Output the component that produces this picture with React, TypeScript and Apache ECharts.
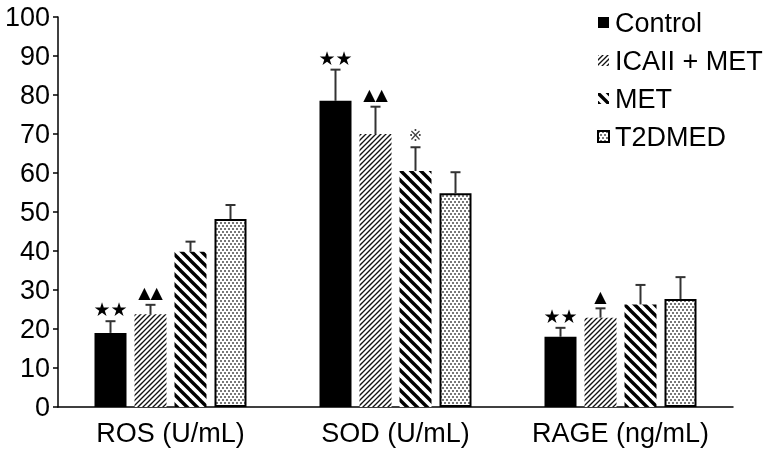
import React, { useEffect, useRef } from 'react';
import * as echarts from 'echarts';

const categories = ['ROS (U/mL)', 'SOD (U/mL)', 'RAGE (ng/mL)'];
const seriesNames = ['Control', 'ICAII + MET', 'MET', 'T2DMED'];
const controlValues = [19, 78.5, 18];
const controlErrors = [3, 8, 2.3];
const icaiiValues = [23.8, 70, 22.9];
const icaiiErrors = [2.4, 7, 2.4];
const metValues = [39.8, 60.5, 26.3];
const metErrors = [2.6, 6.1, 5];
const t2dValues = [48.2, 54.8, 27.7];
const t2dErrors = [3.6, 5.4, 5.6];
const controlMarks = ['★★', '★★', '★★'];
const icaiiMarks = ['▲▲', '▲▲', '▲'];
const metMarks = ['', '※', ''];
const t2dMarks = ['', '', ''];
const yMin = 0;
const yMax = 100;
const yInterval = 10;

const BAR_W = 32;
const BAR_GAP = 8;
const FONT = 'Liberation Sans, Arial, Helvetica, sans-serif';
const SYM_FONT = 'DejaVu Sans, sans-serif';

function makeTile(w: number, h: number, draw: (ctx: CanvasRenderingContext2D) => void) {
  const c = document.createElement('canvas');
  c.width = w;
  c.height = h;
  const ctx = c.getContext('2d')!;
  ctx.fillStyle = '#fff';
  ctx.fillRect(0, 0, w, h);
  draw(ctx);
  return { image: c, repeat: 'repeat', imageWidth: w, imageHeight: h } as any;
}

export default function App() {
  const ref = useRef<HTMLDivElement>(null);
  useEffect(() => {
    if (!ref.current) return;
    const chart = echarts.init(ref.current, null, { renderer: 'svg' });

    const icaiiPattern = makeTile(10, 10, (ctx) => {
      ctx.strokeStyle = '#111';
      ctx.lineWidth = 1.3;
      for (let c = -10; c <= 30; c += 5) {
        ctx.beginPath();
        ctx.moveTo(c + 2, -2);
        ctx.lineTo(c - 12, 12);
        ctx.stroke();
      }
    });
    const metPattern = makeTile(10, 10, (ctx) => {
      ctx.strokeStyle = '#000';
      ctx.lineWidth = 3.4;
      for (let c = -10; c <= 10; c += 10) {
        ctx.beginPath();
        ctx.moveTo(c - 2, -2);
        ctx.lineTo(c + 12, 12);
        ctx.stroke();
      }
    });
    const t2dPattern = makeTile(8, 6, (ctx) => {
      ctx.fillStyle = '#111';
      const pts = [[1, 1], [5, 1], [3, 4], [7, 4]];
      pts.forEach(([x, y]) => ctx.fillRect(x - 0.75, y - 0.75, 1.5, 1.5));
    });

    const values = [controlValues, icaiiValues, metValues, t2dValues];
    const errors = [controlErrors, icaiiErrors, metErrors, t2dErrors];
    const marks = [controlMarks, icaiiMarks, metMarks, t2dMarks];
    const styles: any[] = [
      { color: '#000' },
      { color: icaiiPattern },
      { color: metPattern },
      { color: t2dPattern, borderColor: '#000', borderWidth: 2 },
    ];

    const errData: any[] = [];
    for (let s = 0; s < 4; s++) {
      for (let c = 0; c < categories.length; c++) {
        errData.push([c, values[s][c], errors[s][c], s]);
      }
    }

    const barSeries = seriesNames.map((name, s) => ({
      name,
      type: 'bar',
      data: values[s],
      barWidth: BAR_W,
      barGap: (BAR_GAP / BAR_W) * 100 + '%',
      itemStyle: styles[s],
      z: 2,
    }));

    chart.setOption({
      animation: false,
      grid: { left: 58, right: 42, top: 17, bottom: 48, containLabel: false },
      legend: {
        data: seriesNames,
        orient: 'vertical',
        left: 597,
        top: 9,
        padding: 0,
        itemWidth: 11,
        itemHeight: 11,
        itemGap: 11,
        icon: 'rect',
        textStyle: { fontSize: 27, fontFamily: FONT, color: '#000', padding: [0, 0, 0, 1] },
      },
      xAxis: {
        type: 'category',
        data: categories,
        axisLine: { lineStyle: { color: '#000', width: 1.5 } },
        axisTick: { inside: true, length: 5, lineStyle: { color: '#000', width: 1.5 } },
        axisLabel: { fontSize: 27, fontFamily: FONT, color: '#000', margin: 12, interval: 0, hideOverlap: false },
      },
      yAxis: {
        type: 'value',
        min: yMin,
        max: yMax,
        interval: yInterval,
        splitLine: { show: false },
        axisLine: { show: true, lineStyle: { color: '#000', width: 1.5 } },
        axisTick: { show: true, length: 5, lineStyle: { color: '#000', width: 1.5 } },
        axisLabel: { fontSize: 27, fontFamily: FONT, color: '#000', margin: 8 },
      },
      series: [
        ...barSeries,
        {
          type: 'custom',
          z: 5,
          data: errData,
          encode: { x: 0, y: 1 },
          renderItem: (params: any, api: any) => {
            const c = api.value(0);
            const v = api.value(1);
            const e = api.value(2);
            const s = api.value(3);
            const base = api.coord([c, v]);
            const top = api.coord([c, v + e]);
            const x = base[0] + (s - 1.5) * (BAR_W + BAR_GAP);
            const children: any[] = [
              { type: 'line', shape: { x1: x, y1: base[1], x2: x, y2: top[1] }, style: { stroke: '#333', lineWidth: 2 } },
              { type: 'line', shape: { x1: x - 5, y1: top[1], x2: x + 5, y2: top[1] }, style: { stroke: '#333', lineWidth: 2 } },
            ];
            const mark = marks[s][c];
            if (mark) {
              const isStar = mark.indexOf('★') >= 0;
              children.push({
                type: 'text',
                x,
                y: top[1] - 12,
                style: {
                  text: mark,
                  fontSize: isStar ? 19 : 16,
                  fontFamily: SYM_FONT,
                  fill: mark === '※' ? '#444' : '#000',
                  align: 'center',
                  verticalAlign: 'middle',
                },
              });
            }
            return { type: 'group', children };
          },
        },
      ],
    });
    return () => chart.dispose();
  }, []);
  return <div ref={ref} style={{ position: 'fixed', left: 0, top: 0, width: 775, height: 455 }} />;
}
